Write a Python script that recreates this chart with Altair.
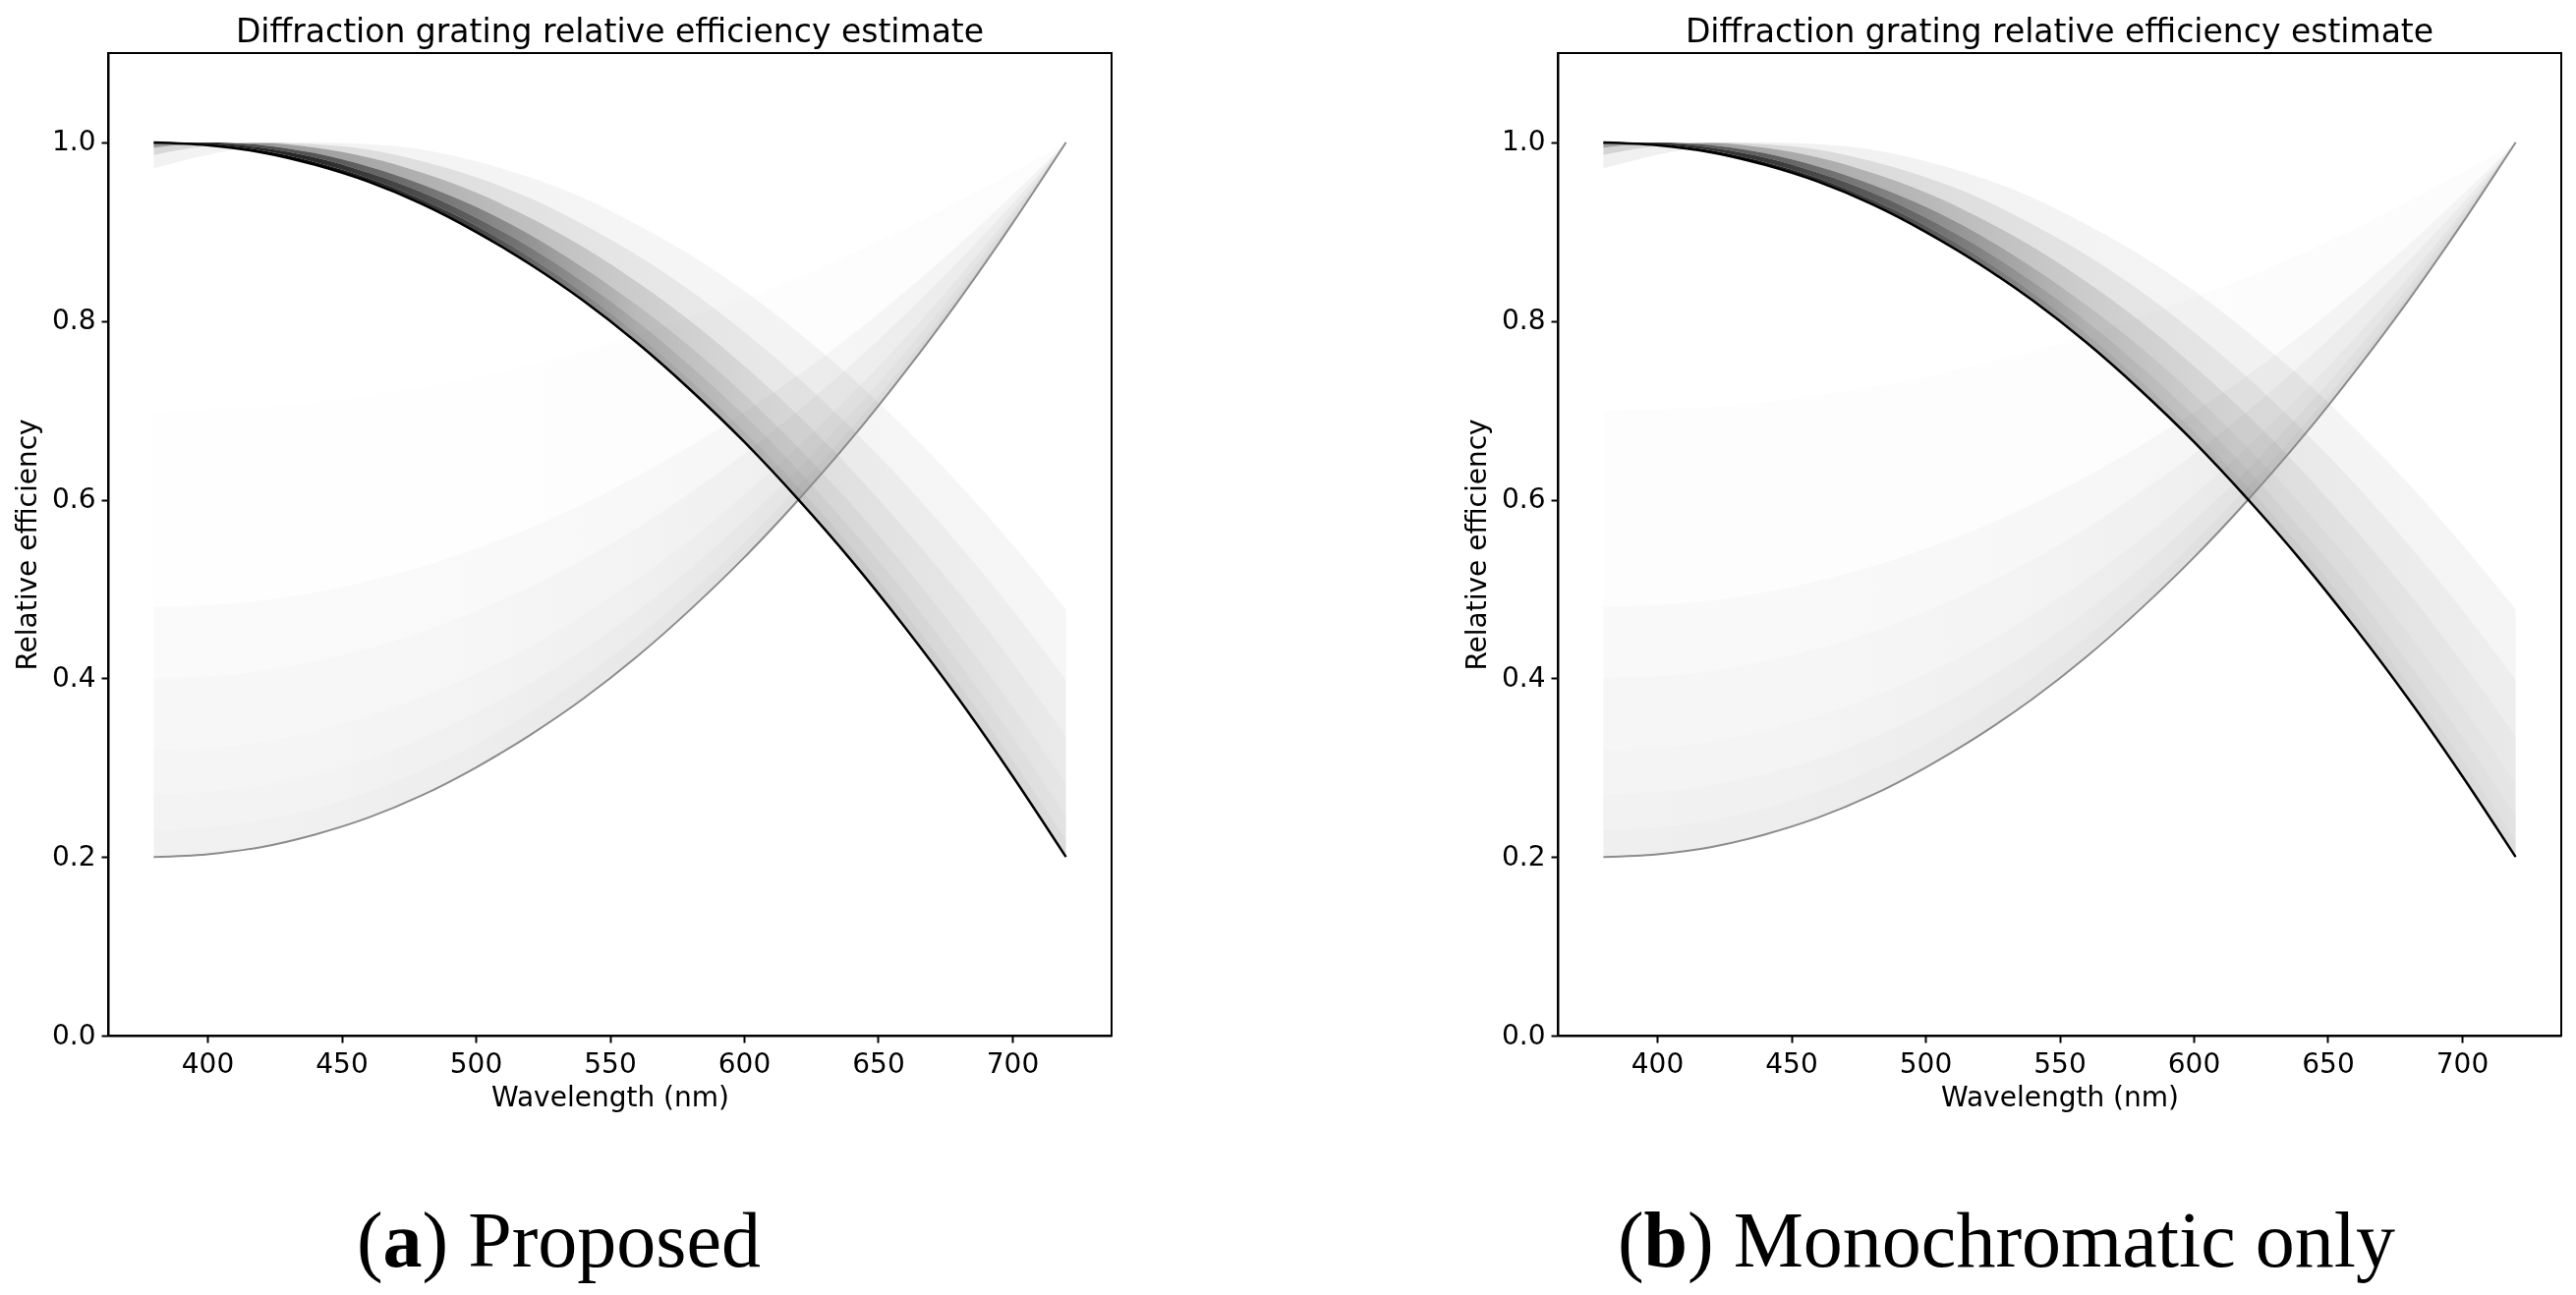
import altair as alt
import pandas as pd

wavelength = [380, 400, 420, 440, 460, 480, 500, 520, 540, 560, 580, 600, 620, 640, 660, 680, 700, 720]

# falling efficiency curve, then copies of it shifted towards longer wavelengths (s = shift in nm)
desc_main = [1.000, 0.997, 0.989, 0.975, 0.956, 0.931, 0.900, 0.864, 0.823, 0.776, 0.723, 0.665, 0.601, 0.532, 0.457, 0.377, 0.291, 0.200]
desc_s4 = [1.000, 0.998, 0.991, 0.978, 0.960, 0.936, 0.907, 0.872, 0.832, 0.786, 0.734, 0.677, 0.615, 0.547, 0.473, 0.394, 0.309, 0.219]
desc_s10 = [0.999, 0.999, 0.994, 0.983, 0.966, 0.944, 0.916, 0.883, 0.844, 0.800, 0.750, 0.695, 0.634, 0.567, 0.496, 0.418, 0.335, 0.246]
desc_s18 = [0.998, 1.000, 0.997, 0.988, 0.973, 0.953, 0.928, 0.897, 0.860, 0.818, 0.771, 0.718, 0.659, 0.595, 0.525, 0.450, 0.369, 0.282]
desc_s30 = [0.994, 0.999, 0.999, 0.994, 0.983, 0.966, 0.944, 0.916, 0.883, 0.844, 0.800, 0.750, 0.695, 0.634, 0.567, 0.496, 0.418, 0.335]
desc_s45 = [0.986, 0.996, 1.000, 0.998, 0.992, 0.979, 0.961, 0.938, 0.908, 0.874, 0.834, 0.788, 0.737, 0.680, 0.618, 0.550, 0.477, 0.398]
desc_s65 = [0.971, 0.986, 0.996, 1.000, 0.998, 0.992, 0.979, 0.961, 0.938, 0.908, 0.874, 0.834, 0.788, 0.737, 0.680, 0.618, 0.550, 0.477]

# rising efficiency curve and its spread (all meet at 720 nm)
rise_main = [0.200, 0.203, 0.211, 0.225, 0.244, 0.269, 0.300, 0.336, 0.377, 0.424, 0.477, 0.535, 0.599, 0.668, 0.743, 0.823, 0.909, 1.000]
rise_c77 = [0.230, 0.233, 0.241, 0.254, 0.273, 0.297, 0.326, 0.361, 0.401, 0.446, 0.496, 0.552, 0.614, 0.680, 0.752, 0.830, 0.912, 1.000]
rise_c73 = [0.270, 0.273, 0.280, 0.293, 0.310, 0.333, 0.361, 0.394, 0.432, 0.475, 0.523, 0.576, 0.634, 0.697, 0.765, 0.838, 0.917, 1.000]
rise_c68 = [0.320, 0.322, 0.329, 0.341, 0.358, 0.379, 0.405, 0.435, 0.471, 0.511, 0.555, 0.605, 0.659, 0.718, 0.781, 0.849, 0.922, 1.000]
rise_c60 = [0.400, 0.402, 0.408, 0.419, 0.433, 0.452, 0.475, 0.502, 0.533, 0.568, 0.608, 0.651, 0.699, 0.751, 0.807, 0.867, 0.931, 1.000]
rise_c52 = [0.480, 0.482, 0.487, 0.496, 0.509, 0.525, 0.545, 0.568, 0.595, 0.626, 0.660, 0.698, 0.739, 0.784, 0.833, 0.885, 0.941, 1.000]
rise_c30 = [0.700, 0.701, 0.704, 0.709, 0.717, 0.726, 0.737, 0.751, 0.766, 0.784, 0.804, 0.826, 0.849, 0.875, 0.903, 0.934, 0.966, 1.000]

x_ticks = [400, 450, 500, 550, 600, 650, 700]
y_ticks = [0.0, 0.2, 0.4, 0.6, 0.8, 1.0]

curves = pd.DataFrame({
    "wl": wavelength,
    "d0": desc_main, "d4": desc_s4, "d10": desc_s10, "d18": desc_s18,
    "d30": desc_s30, "d45": desc_s45, "d65": desc_s65,
    "r80": rise_main, "r77": rise_c77, "r73": rise_c73, "r68": rise_c68,
    "r60": rise_c60, "r52": rise_c52, "r30": rise_c30,
})

DESC_BANDS = [("d0", "d4"), ("d4", "d10"), ("d10", "d18"), ("d18", "d30"), ("d30", "d45"), ("d45", "d65")]
RISE_BANDS = [("r80", "r77"), ("r77", "r73"), ("r73", "r68"), ("r68", "r60"), ("r60", "r52"), ("r52", "r30")]
STOP_AT = [0, 0.18, 0.35, 0.53, 0.7, 1.0]

# grey levels of each band from 380 nm to 720 nm
SHADES_A = {
    "desc": [
        ["#000000", "#111111", "#444444", "#a0a0a0", "#c4c4c4", "#dcdcdc"],
        ["#222222", "#2a2a2a", "#5e5e5e", "#aaaaaa", "#cccccc", "#e2e2e2"],
        ["#444444", "#555555", "#808080", "#bababa", "#d4d4d4", "#e6e6e6"],
        ["#999999", "#a0a0a0", "#b8b8b8", "#cccccc", "#dedede", "#eaeaea"],
        ["#d8d8d8", "#dcdcdc", "#e0e0e0", "#e6e6e6", "#eaeaea", "#efefef"],
        ["#f2f2f2", "#f3f3f3", "#f4f4f4", "#f5f5f5", "#f5f5f5", "#f6f6f6"],
    ],
    "rise": [
        ["#f1f1f1", "#f0f0f0", "#ededed", "#e8e8e8", "#e0e0e0", "#d4d4d4"],
        ["#f3f3f3", "#f3f3f3", "#f0f0f0", "#ececec", "#e5e5e5", "#dcdcdc"],
        ["#f5f5f5", "#f5f5f5", "#f3f3f3", "#f0f0f0", "#eaeaea", "#e2e2e2"],
        ["#f7f7f7", "#f7f7f7", "#f6f6f6", "#f3f3f3", "#efefef", "#eaeaea"],
        ["#fafafa", "#fafafa", "#f9f9f9", "#f8f8f8", "#f6f6f6", "#f3f3f3"],
        ["#fefefe", "#fefefe", "#fefefe", "#fdfdfd", "#fdfdfd", "#fcfcfc"],
    ],
}
SHADES_B = {
    "desc": [
        ["#000000", "#1a1a1a", "#555555", "#a6a6a6", "#c8c8c8", "#dedede"],
        ["#2a2a2a", "#383838", "#6a6a6a", "#b0b0b0", "#cfcfcf", "#e2e2e2"],
        ["#555555", "#606060", "#8a8a8a", "#bcbcbc", "#d6d6d6", "#e6e6e6"],
        ["#a0a0a0", "#a6a6a6", "#b8b8b8", "#cccccc", "#dcdcdc", "#e9e9e9"],
        ["#d4d4d4", "#d8d8d8", "#dddddd", "#e3e3e3", "#e8e8e8", "#eeeeee"],
        ["#f0f0f0", "#f1f1f1", "#f2f2f2", "#f3f3f3", "#f4f4f4", "#f5f5f5"],
    ],
    "rise": [
        ["#efefef", "#eeeeee", "#ebebeb", "#e6e6e6", "#dedede", "#d4d4d4"],
        ["#f2f2f2", "#f1f1f1", "#eeeeee", "#eaeaea", "#e3e3e3", "#dcdcdc"],
        ["#f4f4f4", "#f4f4f4", "#f2f2f2", "#eeeeee", "#e9e9e9", "#e2e2e2"],
        ["#f6f6f6", "#f6f6f6", "#f5f5f5", "#f2f2f2", "#eeeeee", "#eaeaea"],
        ["#f9f9f9", "#f9f9f9", "#f8f8f8", "#f7f7f7", "#f5f5f5", "#f3f3f3"],
        ["#fdfdfd", "#fdfdfd", "#fdfdfd", "#fdfdfd", "#fcfcfc", "#fcfcfc"],
    ],
}

X = alt.X(
    "wl:Q",
    scale=alt.Scale(domain=[363, 737], nice=False, zero=False),
    axis=alt.Axis(values=x_ticks, title="Wavelength (nm)", labelFlush=False),
)


def y_enc(col):
    return alt.Y(
        f"{col}:Q",
        scale=alt.Scale(domain=[0, 1.1], nice=False),
        axis=alt.Axis(values=y_ticks, format=".1f", title="Relative efficiency"),
    )


def shade(greys):
    return alt.LinearGradient(
        gradient="linear", x1=0, x2=1, y1=0, y2=0,
        stops=[alt.GradientStop(color=c, offset=o) for c, o in zip(greys, STOP_AT)],
    )


def band(lo, hi, greys):
    return (
        alt.Chart(curves)
        .mark_area(color=shade(greys), interpolate="monotone", blend="multiply")
        .encode(x=X, y=y_enc(lo), y2=alt.Y2(f"{hi}:Q"))
    )


def caption_piece(text, x, bold=False):
    return (
        alt.Chart(pd.DataFrame({"t": [text]}))
        .mark_text(
            font="Liberation Serif", fontSize=80, align="left", baseline="alphabetic",
            color="black", fontWeight="bold" if bold else "normal",
        )
        .encode(text="t:N", x=alt.value(x), y=alt.value(1235))
    )


def panel(shades, x0, letter, rest, letter_w):
    layers = [band(lo, hi, g) for (lo, hi), g in zip(RISE_BANDS, shades["rise"])]
    layers += [band(lo, hi, g) for (lo, hi), g in zip(DESC_BANDS, shades["desc"])]
    layers.append(
        alt.Chart(curves).mark_line(color="#8c8c8c", strokeWidth=2, interpolate="monotone")
        .encode(x=X, y=y_enc("r80"))
    )
    layers.append(
        alt.Chart(curves).mark_line(color="black", strokeWidth=2.5, interpolate="monotone")
        .encode(x=X, y=y_enc("d0"))
    )
    layers += [
        caption_piece("(", x0),
        caption_piece(letter, x0 + 26.6, bold=True),
        caption_piece(rest, x0 + 26.6 + letter_w),
    ]
    return alt.layer(*layers).properties(
        width=1021, height=1000,
        title=alt.Title("Diffraction grating relative efficiency estimate"),
    )


left = panel(SHADES_A, 253, "a", ") Proposed", 40)
right = panel(SHADES_B, 61, "b", ") Monochromatic only", 44.5)

chart = (
    alt.hconcat(left, right, spacing=356)
    .properties(padding={"left": 5, "top": 8, "right": 5, "bottom": 5})
    .configure_view(stroke="black", strokeWidth=2)
    .configure_axis(
        grid=False,
        domainColor="black", domainWidth=2,
        tickColor="black", tickWidth=2, tickSize=7,
        labelFont="DejaVu Sans", labelFontSize=28, labelColor="black", labelPadding=6,
        titleFont="DejaVu Sans", titleFontSize=28, titleFontWeight="normal", titleColor="black",
    )
    .configure_axisX(labelPadding=8, titlePadding=6)
    .configure_axisY(titlePadding=10)
    .configure_title(
        font="DejaVu Sans", fontSize=33, fontWeight="normal", color="black",
        anchor="middle", frame="group", offset=4, baseline="alphabetic",
    )
)

chart.save("out.html", embed_options={"renderer": "svg", "actions": False})
